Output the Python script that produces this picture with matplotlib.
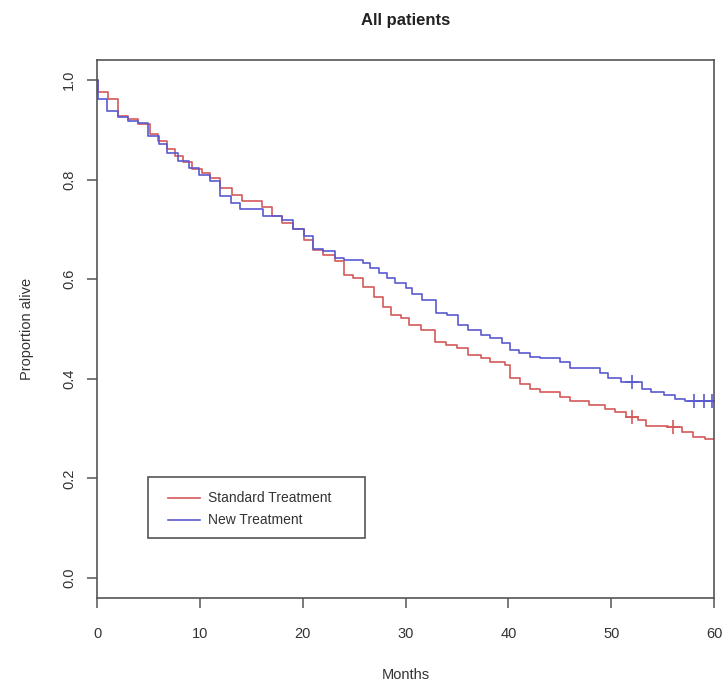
import numpy as np
import matplotlib
matplotlib.use('Agg')
import matplotlib.pyplot as plt
from matplotlib.patches import Rectangle

# Kaplan-Meier step data (time of drop, survival after)
std_t = [0.0, 0.1, 1.1, 2.07, 3.05, 4.0, 5.15, 5.96, 6.8, 7.6, 8.4, 9.2, 10.2, 11.0,
         12.0, 13.1, 14.1, 16.0, 17.0, 18.0, 19.1, 20.1, 21.0, 22.0, 23.1, 24.0, 24.9,
         25.9, 26.9, 27.8, 28.6, 29.6, 30.3, 31.5, 32.9, 33.9, 35.0, 36.1, 37.3, 38.2,
         39.7, 40.2, 41.1, 42.1, 43.1, 45.0, 46.0, 47.8, 49.4, 50.4, 51.4, 52.6, 53.4,
         55.5, 56.9, 58.0, 59.1, 60.0]
std_s = [1.0, 0.976, 0.962, 0.928, 0.921, 0.911, 0.892, 0.878, 0.861, 0.847, 0.836, 0.822,
         0.814, 0.804, 0.784, 0.770, 0.757, 0.745, 0.726, 0.713, 0.700, 0.679, 0.659,
         0.649, 0.636, 0.609, 0.602, 0.585, 0.565, 0.545, 0.528, 0.522, 0.508, 0.497,
         0.474, 0.468, 0.461, 0.448, 0.441, 0.434, 0.427, 0.401, 0.390, 0.380, 0.374,
         0.364, 0.356, 0.347, 0.340, 0.333, 0.323, 0.317, 0.306, 0.303, 0.293, 0.283,
         0.280, 0.280]
std_cens_t = [52.06, 56.05]
std_cens_s = [0.323, 0.303]

new_t = [0.0, 0.05, 1.0, 2.07, 3.05, 4.0, 5.0, 6.0, 6.8, 7.9, 8.9, 9.9, 11.0, 12.0,
         13.0, 13.9, 16.1, 18.0, 19.1, 20.1, 21.0, 22.0, 23.1, 24.0, 25.9, 26.5, 27.4,
         28.2, 29.0, 30.0, 30.6, 31.6, 33.0, 34.0, 35.1, 36.1, 37.3, 38.2, 39.4, 40.2,
         41.0, 42.1, 43.1, 45.0, 46.0, 48.9, 49.7, 51.0, 53.0, 53.9, 55.1, 56.2, 57.2,
         60.0]
new_s = [1.0, 0.962, 0.938, 0.925, 0.918, 0.913, 0.888, 0.871, 0.854, 0.837, 0.824,
         0.810, 0.798, 0.767, 0.753, 0.740, 0.726, 0.718, 0.700, 0.686, 0.661, 0.656,
         0.643, 0.639, 0.632, 0.622, 0.612, 0.602, 0.592, 0.582, 0.571, 0.558, 0.532,
         0.528, 0.508, 0.498, 0.488, 0.481, 0.471, 0.458, 0.451, 0.444, 0.441, 0.434,
         0.421, 0.411, 0.401, 0.394, 0.380, 0.374, 0.367, 0.360, 0.355, 0.355]
new_cens_t = [52.06, 58.1, 59.0, 59.8]
new_cens_s = [0.394, 0.355, 0.355, 0.355]

labels = ["Standard Treatment", "New Treatment"]

RED = "#d45a5a"
BLUE = "#5a5ad0"
GREY = "#555555"
TXT = "#333333"

plt.rcParams['font.family'] = ['Liberation Sans', 'DejaVu Sans']

fig = plt.figure(figsize=(7.28, 6.88), dpi=100)
ax = fig.add_axes([97 / 728, 1 - 598 / 688, 617 / 728, 538 / 688])

ax.step(std_t, std_s, where='post', color=RED, linewidth=1.2)
ax.step(new_t, new_s, where='post', color=BLUE, linewidth=1.2)
ax.plot(std_cens_t, std_cens_s, linestyle='none', marker='+', ms=10, mew=1.2, color=RED)
ax.plot(new_cens_t, new_cens_s, linestyle='none', marker='+', ms=10, mew=1.2, color=BLUE)

ax.set_xlim(0, 60)
ax.set_ylim(-0.04, 1.04)
ax.set_xticks(range(0, 61, 10))
ax.set_yticks([0.0, 0.2, 0.4, 0.6, 0.8, 1.0])
ax.set_yticklabels(["0.0", "0.2", "0.4", "0.6", "0.8", "1.0"], rotation=90, va='center')

for sp in ax.spines.values():
    sp.set_color(GREY)
    sp.set_linewidth(1.2)
ax.tick_params(direction='out', length=7, width=1.1, color=GREY, labelsize=10.5,
               labelcolor=TXT)
ax.tick_params(axis='x', pad=14)
ax.tick_params(axis='y', pad=8)

ax.set_title("All patients", fontsize=12, fontweight='bold', color="#222222", pad=25)
ax.set_xlabel("Months", fontsize=10.5, color=TXT, labelpad=19)
ax.set_ylabel("Proportion alive", fontsize=10.5, color=TXT, labelpad=20)

# R-style legend box (axes fractions)
ax.add_patch(Rectangle((0.0827, 0.1115), 0.3517, 0.1134, transform=ax.transAxes,
                       facecolor='white', edgecolor=GREY, linewidth=1.2, zorder=5))
for row, (lab, col) in enumerate(zip(labels, [RED, BLUE])):
    yy = 0.1859 - row * 0.0409
    ax.plot([0.1151, 0.1669], [yy, yy], transform=ax.transAxes, color=col,
            linewidth=1.2, zorder=6)
    ax.text(0.1799, yy, lab, transform=ax.transAxes, fontsize=10, color=TXT,
            va='center', ha='left', zorder=6)

fig.savefig("out.png", dpi=100)
